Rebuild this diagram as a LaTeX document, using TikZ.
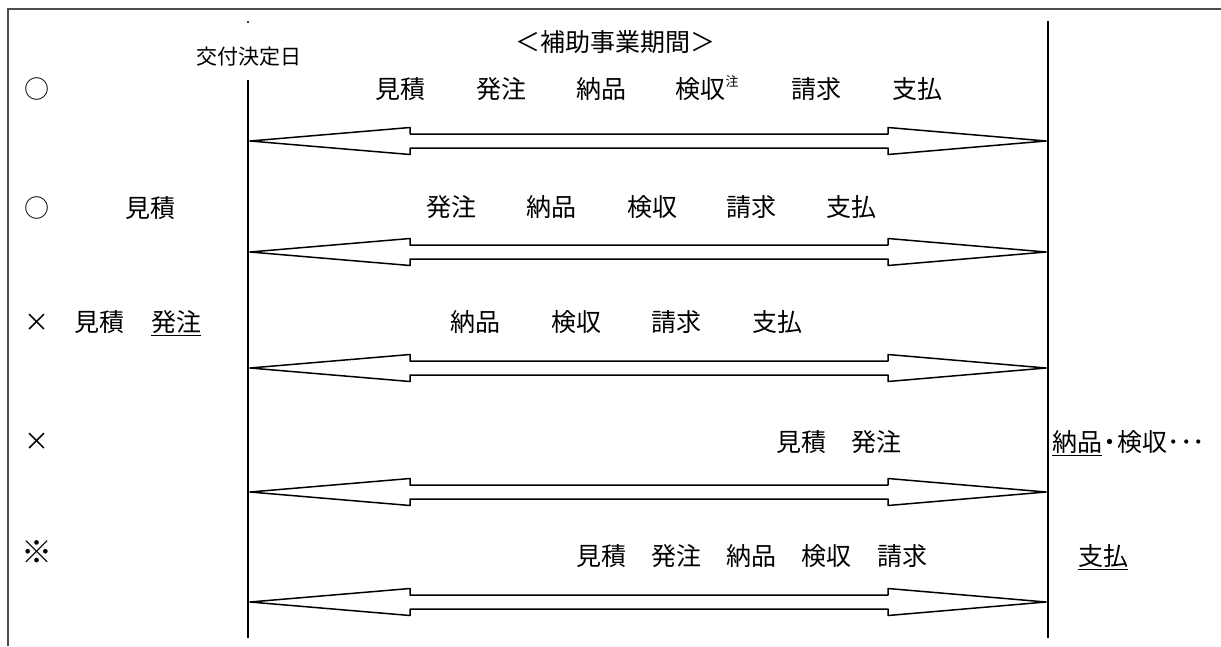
\documentclass[tikz,border=0pt]{standalone}
\usepackage{fontspec}
\setmainfont{Noto Sans CJK JP}
\usetikzlibrary{calc}
\begin{document}
\begin{tikzpicture}[x=1pt,y=-1pt,
        word/.style={inner sep=0pt, font=\fontsize{25}{25}\selectfont},
        small/.style={inner sep=0pt, font=\fontsize{21}{21}\selectfont},
        note/.style={inner sep=0pt, font=\fontsize{13}{13}\selectfont},
        uline/.style={line width=1pt},
        periodarrow/.style={line width=1.5pt, line join=round}]
        \useasboundingbox (0,0) rectangle (1221,646);

        % frame
        \draw[line width=1.6pt, black!70] (8,646) -- (8,9) -- (1221,9);

        % start and end of the period
        \coordinate (kofutop) at (248,80);
        \coordinate (kofubot) at (248,638);
        \coordinate (endtop) at (1048,21);
        \coordinate (endbot) at (1048,638);
        \draw[line width=2pt] (kofutop) -- (kofubot);
        \draw[line width=2pt] (endtop) -- (endbot);
        \fill (248,22) circle (1.2);
        \node[small] (kofu) at (249,57) {交付決定日};
        \node[word] (title) at (615,42) {＜補助事業期間＞};

        % double arrows
        \foreach \r/\y in {1/141,2/252,3/368,4/492,5/602}{
            \coordinate (L\r) at (250,\y);
            \coordinate (R\r) at (1046,\y);
            \draw[periodarrow] (L\r) -- ++(160,-13.5) -- ++(0,6.5)
                -- ($(R\r)+(-158,-7)$) -- ++(0,-6.5) -- (R\r)
                -- ++(-158,13.5) -- ++(0,-6.5)
                -- ($(L\r)+(160,7)$) -- ++(0,6.5) -- cycle;
        }

        % row 1
        \node[word] (mark1) at (37,89) {○};
        \node[word] (mitsu1) at (400,89) {見積};
        \node[word] (hatchu1) at (501,89) {発注};
        \node[word] (nohin1) at (601,89) {納品};
        \node[word] (kenshu1) at (700,89) {検収};
        \node[note] (chu) at (732,81) {注};
        \node[word] (seikyu1) at (816,89) {請求};
        \node[word] (shiharai1) at (917,89) {支払};

        % row 2
        \node[word] (mark2) at (37,208) {○};
        \node[word] (mitsu2) at (150,208) {見積};
        \node[word] (hatchu2) at (451,207) {発注};
        \node[word] (nohin2) at (551,207) {納品};
        \node[word] (kenshu2) at (652,207) {検収};
        \node[word] (seikyu2) at (751,207) {請求};
        \node[word] (shiharai2) at (851,207) {支払};

        % row 3
        \node[word] (mark3) at (37,323) {×};
        \node[word] (mitsu3) at (99,322) {見積};
        \node[word] (hatchu3) at (176,322) {発注};
        \draw[uline] ([yshift=-2pt]hatchu3.south west) -- ([yshift=-2pt]hatchu3.south east);
        \node[word] (nohin3) at (475,322) {納品};
        \node[word] (kenshu3) at (576,322) {検収};
        \node[word] (seikyu3) at (676,322) {請求};
        \node[word] (shiharai3) at (777,322) {支払};

        % row 4
        \node[word] (mark4) at (37,442) {×};
        \node[word] (mitsu4) at (801,442) {見積};
        \node[word] (hatchu4) at (876,442) {発注};
        \node[word, anchor=west] (nohin4) at (1052,442) {納品};
        \draw[uline] ([yshift=-2pt]nohin4.south west) -- ([yshift=-2pt]nohin4.south east);
        \node[word, anchor=west] (rest4) at (nohin4.east) {\kern-5pt・\kern-5pt検収･･･};

        % row 5
        \node[word, font=\fontsize{31}{31}\selectfont] (mark5) at (37,552) {※};
        \node[word] (mitsu5) at (601,556) {見積};
        \node[word] (hatchu5) at (676,556) {発注};
        \node[word] (nohin5) at (751,556) {納品};
        \node[word] (kenshu5) at (826,556) {検収};
        \node[word] (seikyu5) at (902,556) {請求};
        \node[word] (shiharai5) at (1103,556) {支払};
        \draw[uline] ([yshift=-2pt]shiharai5.south west) -- ([yshift=-2pt]shiharai5.south east);
    \end{tikzpicture}
\end{document}
